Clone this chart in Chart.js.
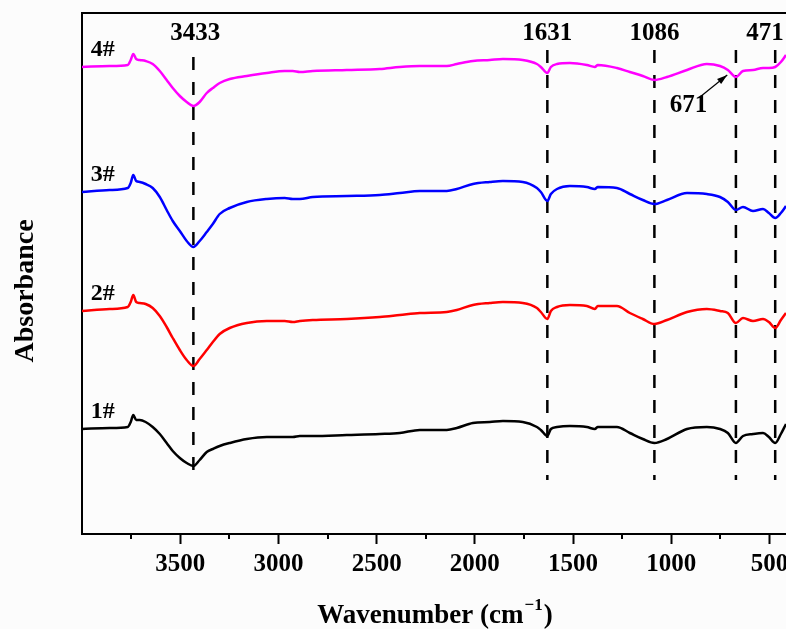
<!DOCTYPE html>
<html>
<head>
<meta charset="utf-8">
<script src="https://cdn.jsdelivr.net/npm/chart.js@4.4.0/dist/chart.umd.min.js"></script>
<style>
  html, body { margin: 0; padding: 0; background: #fcfcfc; }
</style>
</head>
<body>
<canvas id="ftir" width="786" height="629"></canvas>
<script>
// FTIR spectra (absorbance in arbitrary offset units)
const wavenumbers = [4000, 3859, 3767, 3752, 3739, 3724, 3706, 3676, 3640, 3604, 3569, 3538, 3502, 3467, 3433, 3401,
  3365, 3334, 3299, 3248, 3161, 3059, 2968, 2927, 2891, 2825, 2652, 2484, 2382, 2280, 2143, 2092, 2010, 1924, 1857,
  1756, 1684, 1664, 1631, 1613, 1582, 1516, 1430, 1389, 1374, 1277, 1211, 1145, 1086, 1022, 920, 819, 752, 712, 671,
  635, 584, 533, 503, 471, 442, 416];

const sample1 = [1.05, 1.06, 1.07, 1.12, 1.19, 1.14, 1.14, 1.12, 1.07, 1.00, 0.91, 0.83, 0.76, 0.71, 0.68, 0.74,
  0.82, 0.85, 0.88, 0.91, 0.95, 0.97, 0.97, 0.97, 0.98, 0.98, 0.99, 1.00, 1.01, 1.04, 1.04, 1.06, 1.11, 1.12, 1.13,
  1.12, 1.07, 1.04, 0.98, 1.05, 1.07, 1.08, 1.07, 1.05, 1.07, 1.07, 1.01, 0.95, 0.91, 0.95, 1.05, 1.07, 1.05, 1.01,
  0.91, 0.98, 1.00, 1.01, 0.97, 0.91, 1.00, 1.10];
const sample2 = [2.23, 2.25, 2.27, 2.32, 2.39, 2.32, 2.31, 2.30, 2.26, 2.18, 2.07, 1.96, 1.84, 1.74, 1.68, 1.75,
  1.84, 1.92, 2.00, 2.06, 2.11, 2.13, 2.13, 2.12, 2.13, 2.14, 2.15, 2.17, 2.19, 2.21, 2.22, 2.24, 2.29, 2.31, 2.32,
  2.31, 2.26, 2.22, 2.15, 2.23, 2.27, 2.29, 2.28, 2.25, 2.28, 2.28, 2.21, 2.15, 2.10, 2.14, 2.22, 2.25, 2.23, 2.21,
  2.11, 2.16, 2.13, 2.15, 2.12, 2.06, 2.14, 2.21];
const sample3 = [3.42, 3.44, 3.46, 3.51, 3.59, 3.53, 3.52, 3.50, 3.46, 3.37, 3.24, 3.13, 3.03, 2.93, 2.87, 2.93,
  3.02, 3.10, 3.20, 3.26, 3.32, 3.35, 3.36, 3.35, 3.35, 3.37, 3.38, 3.39, 3.41, 3.43, 3.43, 3.45, 3.50, 3.52, 3.53,
  3.52, 3.46, 3.42, 3.33, 3.40, 3.45, 3.48, 3.47, 3.45, 3.47, 3.46, 3.40, 3.34, 3.30, 3.34, 3.41, 3.40, 3.37, 3.32,
  3.24, 3.27, 3.23, 3.25, 3.21, 3.16, 3.21, 3.28];
const sample4 = [4.67, 4.68, 4.69, 4.74, 4.80, 4.75, 4.74, 4.73, 4.70, 4.63, 4.54, 4.46, 4.38, 4.32, 4.28, 4.32,
  4.41, 4.46, 4.51, 4.55, 4.58, 4.61, 4.63, 4.63, 4.62, 4.63, 4.64, 4.65, 4.67, 4.68, 4.68, 4.70, 4.73, 4.74, 4.75,
  4.74, 4.70, 4.67, 4.61, 4.67, 4.70, 4.71, 4.69, 4.67, 4.69, 4.66, 4.62, 4.58, 4.54, 4.57, 4.64, 4.70, 4.68, 4.64,
  4.57, 4.63, 4.64, 4.66, 4.66, 4.67, 4.72, 4.79];

const sampleNames = ['1#', '2#', '3#', '4#'];
const peaks = [3433, 1631, 1086, 671, 471];
const peakLabels = ['3433', '1631', '1086', '', '471'];
const majorTicks = [3500, 3000, 2500, 2000, 1500, 1000, 500];
const minorTicks = [3750, 3250, 2750, 2250, 1750, 1250, 750];

const serif = '"Liberation Serif", "Times New Roman", serif';
const colors = ['#000000', '#ff0000', '#0000ff', '#ff00ff'];
const samples = [sample1, sample2, sample3, sample4];

const toPoints = arr => wavenumbers.map((w, i) => ({ x: w, y: arr[i] }));

const datasets = [];
samples.forEach((s, i) => {
    datasets.push({
        label: sampleNames[i],
        data: toPoints(s),
        borderColor: colors[i],
        borderWidth: 2.5,
        pointRadius: 0,
        cubicInterpolationMode: 'monotone',
        fill: false
    });
});
// dashed marker lines
peaks.forEach((p, i) => {
    datasets.push({
        label: 'peak ' + p,
        data: [{ x: p, y: i === 0 ? 4.77 : 4.84 }, { x: p, y: 0.54 }],
        borderColor: '#000',
        borderWidth: 2.5,
        borderDash: [13, 12],
        pointRadius: 0,
        fill: false
    });
});

const annotate = {
    id: 'annotate',
    afterDraw(chart) {
        const ctx = chart.ctx;
        const xs = chart.scales.x, ys = chart.scales.y;
        const area = chart.chartArea;
        ctx.save();
        ctx.fillStyle = '#000';
        ctx.strokeStyle = '#000';

        // top frame line
        ctx.lineWidth = 2;
        ctx.beginPath();
        ctx.moveTo(area.left, area.top);
        ctx.lineTo(area.right, area.top);
        ctx.stroke();

        // minor ticks
        minorTicks.forEach(v => {
            const px = Math.round(xs.getPixelForValue(v));
            ctx.beginPath();
            ctx.moveTo(px, area.bottom);
            ctx.lineTo(px, area.bottom + 5);
            ctx.stroke();
        });

        // peak labels
        ctx.font = 'bold 25px ' + serif;
        ctx.textAlign = 'center';
        ctx.textBaseline = 'middle';
        peaks.forEach((p, i) => {
            if (!peakLabels[i]) return;
            const shift = p === 471 ? 523 : p + (p === 3433 ? -10 : 0);
            ctx.fillText(peakLabels[i], xs.getPixelForValue(shift), ys.getPixelForValue(5.0));
        });

        // 671 with arrow
        ctx.fillText('671', xs.getPixelForValue(912), ys.getPixelForValue(4.28));
        const ax0 = xs.getPixelForValue(854), ay0 = ys.getPixelForValue(4.37);
        const ax1 = xs.getPixelForValue(715), ay1 = ys.getPixelForValue(4.59);
        ctx.lineWidth = 1.2;
        ctx.beginPath();
        ctx.moveTo(ax0, ay0);
        ctx.lineTo(ax1, ay1);
        ctx.stroke();
        const ang = Math.atan2(ay1 - ay0, ax1 - ax0);
        ctx.beginPath();
        ctx.moveTo(ax1, ay1);
        ctx.lineTo(ax1 - 11 * Math.cos(ang - 0.3), ay1 - 11 * Math.sin(ang - 0.3));
        ctx.lineTo(ax1 - 11 * Math.cos(ang + 0.3), ay1 - 11 * Math.sin(ang + 0.3));
        ctx.closePath();
        ctx.fill();

        // sample names above each trace
        ctx.font = 'bold 24px ' + serif;
        samples.forEach((s, i) => {
            ctx.fillText(sampleNames[i], xs.getPixelForValue(3895), ys.getPixelForValue(s[0] + 0.17));
        });

        // axis titles
        ctx.font = 'bold 28px ' + serif;
        ctx.textBaseline = 'alphabetic';
        ctx.save();
        ctx.translate(33, 291);
        ctx.rotate(-Math.PI / 2);
        ctx.fillText('Absorbance', 0, 0);
        ctx.restore();

        const main = 'Wavenumber (cm';
        const sup = '\u22121';
        ctx.font = 'bold 27px ' + serif;
        const wMain = ctx.measureText(main).width;
        const wClose = ctx.measureText(')').width;
        ctx.font = 'bold 17px ' + serif;
        const wSup = ctx.measureText(sup).width;
        let tx = (area.left + area.right) / 2 - (wMain + wSup + wClose) / 2;
        const ty = 623;
        ctx.textAlign = 'left';
        ctx.font = 'bold 27px ' + serif;
        ctx.fillText(main, tx, ty);
        tx += wMain;
        ctx.font = 'bold 17px ' + serif;
        ctx.fillText(sup, tx + 1, ty - 13);
        tx += wSup + 2;
        ctx.font = 'bold 27px ' + serif;
        ctx.fillText(')', tx, ty);
        ctx.restore();
    }
};

new Chart(document.getElementById('ftir').getContext('2d'), {
    type: 'line',
    data: { datasets: datasets },
    options: {
        responsive: false,
        animation: false,
        layout: { padding: { top: 13, right: 0, bottom: 0, left: 0 } },
        plugins: {
            legend: { display: false },
            tooltip: { enabled: false }
        },
        scales: {
            x: {
                type: 'linear',
                reverse: true,
                min: 416,
                max: 4000,
                afterBuildTicks: s => { s.ticks = majorTicks.map(v => ({ value: v })); },
                afterFit: s => { s.height = 95; s.paddingLeft = 0; s.paddingRight = 0; },
                ticks: {
                    color: '#000',
                    padding: 6,
                    maxRotation: 0,
                    autoSkip: false,
                    callback: v => String(v),
                    font: { family: serif, size: 25, weight: 'bold' }
                },
                grid: { drawOnChartArea: false, drawTicks: true, tickLength: 10, tickWidth: 2, tickColor: '#000' },
                border: { color: '#000', width: 2 }
            },
            y: {
                type: 'linear',
                min: 0,
                max: 5.21,
                afterFit: s => { s.width = 82; s.paddingTop = 0; s.paddingBottom = 0; },
                ticks: { display: false },
                grid: { display: false },
                border: { color: '#000', width: 2 }
            }
        }
    },
    plugins: [annotate]
});
</script>
</body>
</html>
